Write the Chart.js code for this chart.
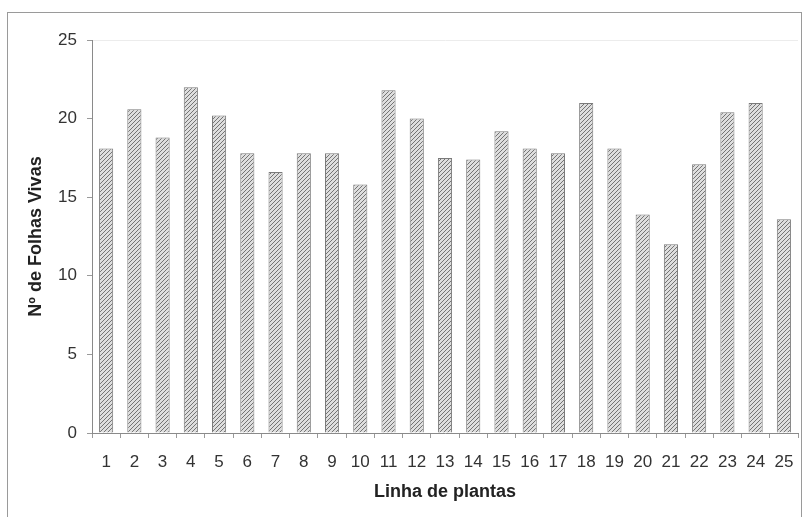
<!DOCTYPE html>
<html>
<head>
<meta charset="utf-8">
<script src="https://cdn.jsdelivr.net/npm/chart.js@4.4.1/dist/chart.umd.min.js"></script>
<style>
html,body{margin:0;padding:0;background:#fff;}
#wrap{width:803px;height:517px;position:relative;}
</style>
</head>
<body>
<div id="wrap"><canvas id="c" width="803" height="517"></canvas></div>
<script>
const categories = ['1','2','3','4','5','6','7','8','9','10','11','12','13','14','15','16','17','18','19','20','21','22','23','24','25'];
const folhasVivas = [18.1, 20.6, 18.8, 22.0, 20.2, 17.8, 16.6, 17.8, 17.8, 15.8, 21.8, 20.0, 17.5, 17.4, 19.2, 18.1, 17.8, 21.0, 18.1, 13.9, 12.0, 17.1, 20.4, 21.0, 13.6];
const yTicks = [0, 5, 10, 15, 20, 25];
const xTitle = 'Linha de plantas';
const yTitle = 'Nº de Folhas Vivas';

function makeHatch() {
  const p = document.createElement('canvas');
  p.width = 4; p.height = 4;
  const g = p.getContext('2d');
  g.fillStyle = '#dedede';
  g.fillRect(0, 0, 4, 4);
  g.strokeStyle = '#747474';
  g.lineWidth = 1;
  g.beginPath();
  g.moveTo(-1, 5); g.lineTo(5, -1);
  g.moveTo(-1, 1); g.lineTo(1, -1);
  g.moveTo(3, 5); g.lineTo(5, 3);
  g.stroke();
  return document.getElementById('c').getContext('2d').createPattern(p, 'repeat');
}

const framePlugin = {
  id: 'frame',
  beforeDraw(chart) {
    const ctx = chart.ctx;
    ctx.save();
    ctx.fillStyle = '#fff';
    ctx.fillRect(0, 0, chart.width, chart.height);
    ctx.restore();
  },
  afterDraw(chart) {
    const ctx = chart.ctx;
    ctx.save();
    ctx.strokeStyle = '#9a9a9a';
    ctx.lineWidth = 1;
    ctx.strokeRect(7.5, 12.5, 794, 515);
    ctx.restore();
  }
};

Chart.defaults.font.family = '"Liberation Sans", Arial, sans-serif';

new Chart(document.getElementById('c'), {
  type: 'bar',
  data: {
    labels: categories,
    datasets: [{
      data: folhasVivas,
      backgroundColor: makeHatch(),
      borderColor: '#7a7a7a',
      borderWidth: 1,
      barPercentage: 0.5,
      categoryPercentage: 1.0
    }]
  },
  options: {
    responsive: false,
    animation: false,
    devicePixelRatio: 1,
    layout: { padding: { top: 40, right: 5, left: 0, bottom: 0 } },
    plugins: { legend: { display: false }, tooltip: { enabled: false } },
    scales: {
      x: {
        offset: true,
        grid: { display: true, drawOnChartArea: false, drawTicks: true, tickLength: 5, tickColor: '#9a9a9a', offset: true },
        border: { display: true, color: '#8a8a8a', width: 1 },
        ticks: { color: '#333', font: { size: 17 }, padding: 14, maxRotation: 0, autoSkip: false },
        title: { display: true, text: xTitle, color: '#222', font: { size: 18, weight: 'bold' }, padding: { top: 0, bottom: 14 } },
        afterFit(scale) { scale.height = 84; scale.paddingLeft = 0; scale.paddingRight = 0; }
      },
      y: {
        min: 0, max: 25,
        afterBuildTicks(scale) { scale.ticks = yTicks.map(v => ({ value: v })); },
        grid: {
          display: true,
          drawOnChartArea: true,
          drawTicks: true,
          tickLength: 5,
          tickColor: '#9a9a9a',
          color: (c) => (c.tick && c.tick.value === 25) ? '#ececec' : 'rgba(0,0,0,0)'
        },
        border: { display: true, color: '#8a8a8a', width: 1, dash: [] },
        ticks: { color: '#333', font: { size: 17 }, padding: 10 },
        title: { display: true, text: yTitle, color: '#222', font: { size: 18, weight: 'bold' }, padding: { top: 25, bottom: 0 } },
        afterFit(scale) { scale.width = 92; }
      }
    }
  },
  plugins: [framePlugin]
});
</script>
</body>
</html>
